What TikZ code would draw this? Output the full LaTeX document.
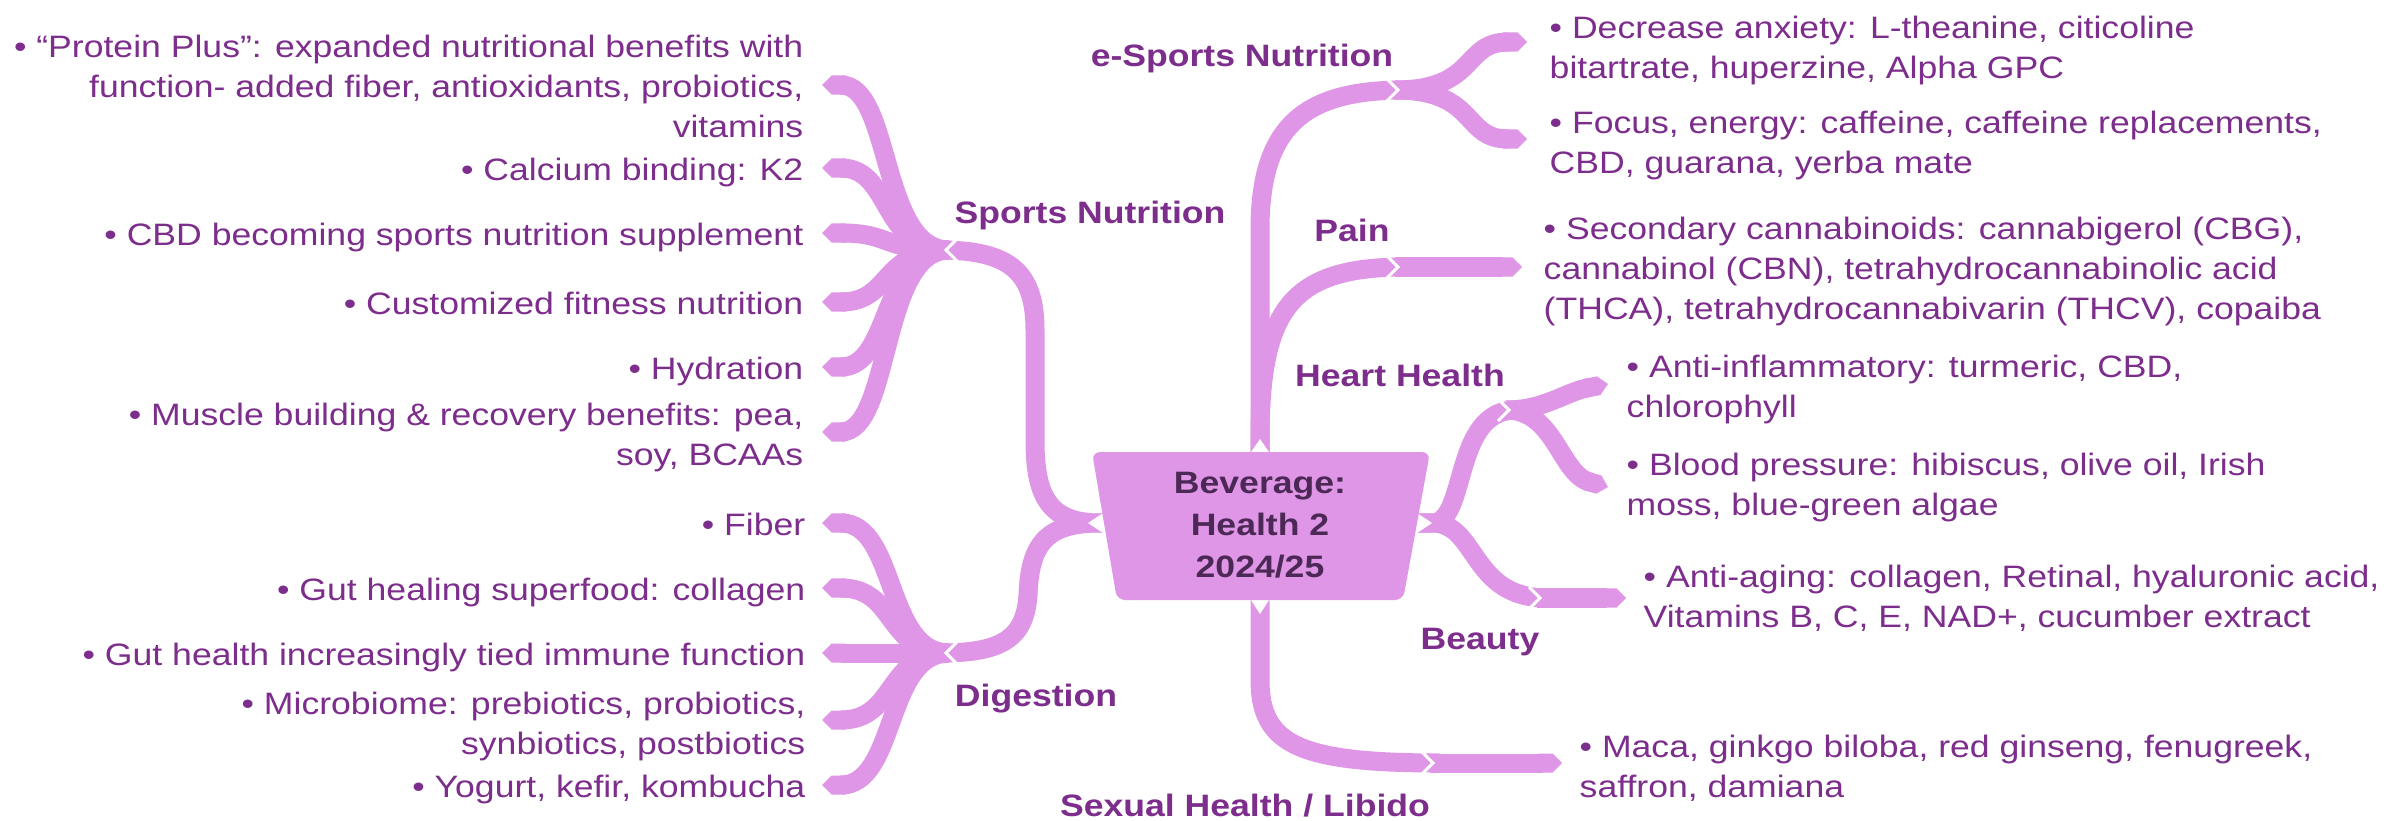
\documentclass[tikz,border=0pt]{standalone}
\usepackage{fontspec}
\setmainfont[FakeStretch=1.15]{Liberation Sans}
\usetikzlibrary{arrows.meta,calc}
\definecolor{ribc}{RGB}{224,150,230}
\definecolor{txtc}{RGB}{125,45,140}
\definecolor{ctrc}{RGB}{75,40,85}
\begin{document}
\begin{tikzpicture}[x=0.01cm,y=-0.01cm,
  rib/.style={draw=ribc, line width=0.19cm},
  ribend/.style={rib, -{Triangle Cap}},
  notch/.style={draw=white, line width=0.03cm, line join=miter},
  wedge/.style={fill=white},
  leaf/.style={font=\fontsize{8.8pt}{11.38pt}\selectfont, text=txtc, inner sep=0pt},
  leafL/.style={leaf, anchor=north east, align=right},
  leafR/.style={leaf, anchor=north west, align=left},
  lbl/.style={font=\fontsize{8.8pt}{11.38pt}\selectfont\bfseries, text=txtc, inner sep=0pt, anchor=base},
]
\useasboundingbox[fill=white] (0,0) rectangle (2405,821);

% ---------- coordinates ----------
\coordinate (cT) at (1260,500);
\coordinate (cB) at (1260,550);
\coordinate (cL) at (1120,523);
\coordinate (cR) at (1400,523);
\coordinate (jEs) at (1398,90);
\coordinate (jPn) at (1398,267);
\coordinate (jHh) at (1509,410);
\coordinate (jBt) at (1540,598);
\coordinate (jSx) at (1433,763);
\coordinate (jSp) at (946,250);
\coordinate (jDg) at (946,653);

% ---------- main ribbons ----------
\draw[rib] (cT) -- (1260,230) .. controls (1260,125) and (1305,90) .. ($(jEs)+(7,0)$);
\draw[rib] (cT) -- (1260,440) .. controls (1260,310) and (1290,267) .. ($(jPn)+(7,0)$);
\draw[rib] (cR) -- (1432,523) .. controls (1468,523) and (1452,410) .. ($(jHh)+(7,0)$);
\draw[rib] (cR) -- (1432,523) .. controls (1478,523) and (1470,598) .. ($(jBt)+(7,0)$);
\draw[rib] (cB) -- (1260,680) .. controls (1260,745) and (1300,763) .. ($(jSx)+(7,0)$);
\draw[rib] (cL) -- (1100,523) .. controls (1048,523) and (1035,495) .. (1035,440) -- (1035,330) .. controls (1035,272) and (1010,250) .. ($(jSp)+(-7,0)$);
\draw[rib] (cL) -- (1100,523) .. controls (1045,523) and (1030,545) .. (1028,595) .. controls (1025,640) and (1000,653) .. ($(jDg)+(-7,0)$);

% ---------- leaf ribbons ----------
\coordinate (tEs1) at (1527,42);
\coordinate (tEs2) at (1527,139);
\draw[ribend] ($(jEs)+(-3,0)$) .. controls (1478,90) and (1462,42) .. (tEs1);
\draw[ribend] ($(jEs)+(-3,0)$) .. controls (1478,90) and (1462,139) .. (tEs2);
\coordinate (tPn) at (1522,267);
\draw[ribend] ($(jPn)+(-3,0)$) -- (tPn);
\coordinate (tHh1) at (1608,384);
\coordinate (tHh2) at (1608,487);
\draw[ribend] ($(jHh)+(-3,0)$) .. controls (1545,410) and (1565,392) .. (tHh1);
\draw[ribend] ($(jHh)+(-3,0)$) .. controls (1555,410) and (1560,474) .. (tHh2);
\coordinate (tBt) at (1626,598);
\draw[ribend] ($(jBt)+(-3,0)$) -- (tBt);
\coordinate (tSx) at (1562,763);
\draw[ribend] ($(jSx)+(-3,0)$) -- (tSx);

\foreach \yy [count=\i] in {85,168,233,302,367,432}{
  \coordinate (tSp\i) at (822,\yy);
  \draw[ribend] ($(jSp)+(3,0)$) .. controls (880,250) and (892,\yy) .. (tSp\i);
}
\foreach \yy [count=\i] in {523,588,653,720,785}{
  \coordinate (tDg\i) at (822,\yy);
  \draw[ribend] ($(jDg)+(3,0)$) .. controls (885,653) and (897,\yy) .. (tDg\i);
}

% ---------- junction notches ----------
\foreach \p in {jEs,jPn,jHh,jBt,jSx}{
  \draw[notch] ($(\p)+(-11,-11)$) -- (\p) -- ($(\p)+(-11,11)$);
}
\foreach \p in {jSp,jDg}{
  \draw[notch] ($(\p)+(11,-11)$) -- (\p) -- ($(\p)+(11,11)$);
}
\fill[wedge] (1249,455) -- (1260,439) -- (1271,455) -- cycle;
\fill[wedge] (1249,597) -- (1260,614) -- (1271,597) -- cycle;
\fill[wedge] (1106,511) -- (1088,523) -- (1106,535) -- cycle;
\fill[wedge] (1414,511) -- (1432,523) -- (1414,535) -- cycle;

% ---------- centre ----------
\fill[ribc, rounded corners=0.08cm] (1092,452) -- (1430,452) -- (1403,600) -- (1117,600) -- cycle;
\node[font=\fontsize{8.8pt}{11.95pt}\selectfont\bfseries, text=ctrc, align=center, inner sep=0pt] (center) at (1260,525) {Beverage:\\Health 2\\2024/25};

% ---------- branch labels ----------
\node[lbl] (lEs) at (1242,66) {e-Sports Nutrition};
\node[lbl] (lSp) at (1090,223) {Sports Nutrition};
\node[lbl] (lPn) at (1352,241) {Pain};
\node[lbl] (lHh) at (1400,386) {Heart Health};
\node[lbl] (lBt) at (1480,649) {Beauty};
\node[lbl] (lDg) at (1036,706) {Digestion};
\node[lbl] (lSx) at (1245,816) {Sexual Health / Libido};

% ---------- leaf texts ----------
\node[leafL] (sp1) at (804,34) {• “Protein Plus”: expanded nutritional benefits with\\function- added fiber, antioxidants, probiotics,\\vitamins};
\node[leafL] (sp2) at (804,157) {• Calcium binding: K2};
\node[leafL] (sp3) at (804,222) {• CBD becoming sports nutrition supplement};
\node[leafL] (sp4) at (804,291) {• Customized fitness nutrition};
\node[leafL] (sp5) at (804,356) {• Hydration};
\node[leafL] (sp6) at (804,402) {• Muscle building \& recovery benefits: pea,\\soy, BCAAs};

\node[leafL] (dg1) at (806,512) {• Fiber};
\node[leafL] (dg2) at (806,577) {• Gut healing superfood: collagen};
\node[leafL] (dg3) at (806,642) {• Gut health increasingly tied immune function};
\node[leafL] (dg4) at (806,691) {• Microbiome: prebiotics, probiotics,\\synbiotics, postbiotics};
\node[leafL] (dg5) at (806,774) {• Yogurt, kefir, kombucha};

\node[leafR] (es1) at (1549,15) {• Decrease anxiety: L-theanine, citicoline\\bitartrate, huperzine, Alpha GPC};
\node[leafR] (es2) at (1549,110) {• Focus, energy: caffeine, caffeine replacements,\\CBD, guarana, yerba mate};
\node[leafR] (pn1) at (1543,216) {• Secondary cannabinoids: cannabigerol (CBG),\\cannabinol (CBN), tetrahydrocannabinolic acid\\(THCA), tetrahydrocannabivarin (THCV), copaiba};
\node[leafR] (hh1) at (1626,354) {• Anti-inflammatory: turmeric, CBD,\\chlorophyll};
\node[leafR] (hh2) at (1626,452) {• Blood pressure: hibiscus, olive oil, Irish\\moss, blue-green algae};
\node[leafR] (bt1) at (1643,564) {• Anti-aging: collagen, Retinal, hyaluronic acid,\\Vitamins B, C, E, NAD+, cucumber extract};
\node[leafR] (sx1) at (1579,734) {• Maca, ginkgo biloba, red ginseng, fenugreek,\\saffron, damiana};
\end{tikzpicture}
\end{document}
